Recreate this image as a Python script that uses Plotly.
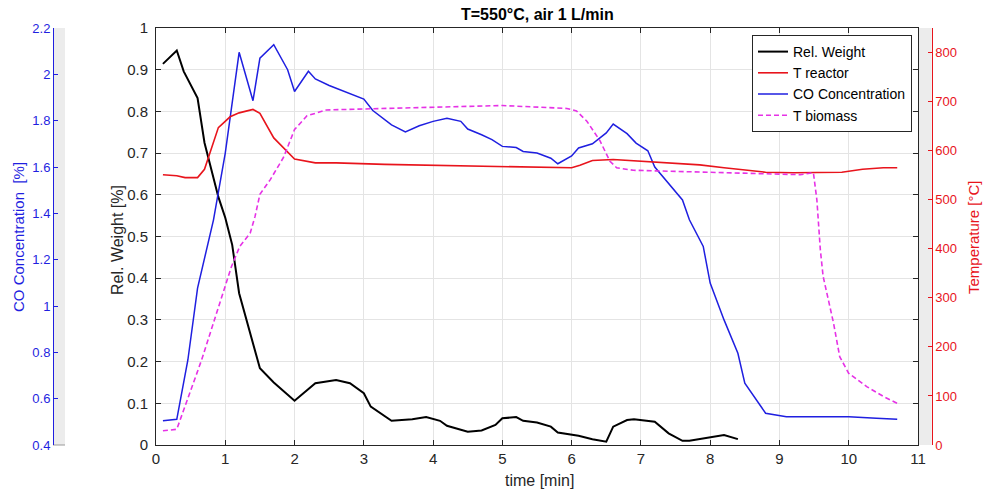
import plotly.graph_objects as go

# ---- measured series -------------------------------------------------------
# Relative sample weight (left axis, 0..1)
t_weight = [0.1, 0.3, 0.4, 0.6, 0.7, 0.9, 1.0, 1.1, 1.2, 1.5, 1.7, 2.0, 2.3, 2.6, 2.8,
            3.0, 3.1, 3.4, 3.7, 3.9, 4.1, 4.2, 4.5, 4.7, 4.9, 5.0, 5.2, 5.3, 5.5, 5.7,
            5.8, 6.0, 6.1, 6.3, 6.5, 6.6, 6.8, 6.9, 7.2, 7.4, 7.6, 7.7, 8.0, 8.2, 8.4]
rel_weight = [0.914, 0.946, 0.896, 0.832, 0.725, 0.595, 0.545, 0.48, 0.364, 0.184, 0.15,
              0.106, 0.148, 0.156, 0.148, 0.124, 0.092, 0.058, 0.062, 0.067, 0.058, 0.046,
              0.032, 0.035, 0.048, 0.064, 0.067, 0.058, 0.054, 0.044, 0.030, 0.024, 0.022,
              0.014, 0.008, 0.044, 0.060, 0.062, 0.056, 0.028, 0.010, 0.010, 0.018, 0.024,
              0.014]

# Reactor temperature (right axis, degC)
t_reactor = [0.1, 0.3, 0.42, 0.6, 0.7, 0.9, 1.07, 1.2, 1.4, 1.5, 1.7, 1.84, 2.0, 2.3, 2.6,
             3.3, 4.2, 5.0, 6.0, 6.12, 6.3, 6.6, 7.1, 7.85, 8.2, 8.5, 8.8, 9.2, 9.9, 10.2,
             10.5, 10.7]
temp_reactor = [551, 549, 545, 545, 562, 647, 669, 677, 684, 676, 626, 606, 583, 575, 575,
                572, 570, 567, 565, 570, 580, 582, 577, 571, 565, 560, 556, 555, 556, 562,
                565, 565]

# CO concentration in the off-gas (outer left axis, %)
t_co = [0.1, 0.3, 0.46, 0.6, 0.83, 1.0, 1.2, 1.4, 1.5, 1.7, 1.9, 2.0, 2.2, 2.3, 2.5, 2.8,
        3.0, 3.13, 3.4, 3.6, 3.8, 4.0, 4.2, 4.4, 4.5, 4.7, 4.85, 5.0, 5.2, 5.3, 5.5, 5.7,
        5.8, 6.0, 6.1, 6.3, 6.5, 6.6, 6.8, 6.93, 7.1, 7.2, 7.4, 7.6, 7.7, 7.9, 8.0, 8.2,
        8.4, 8.5, 8.8, 9.1, 9.8, 10.0, 10.4, 10.7]
co_conc = [0.505, 0.511, 0.767, 1.077, 1.372, 1.66, 2.095, 1.886, 2.07, 2.128, 2.02, 1.926,
           2.013, 1.98, 1.952, 1.916, 1.893, 1.844, 1.782, 1.751, 1.778, 1.797, 1.81, 1.797,
           1.764, 1.739, 1.718, 1.689, 1.684, 1.667, 1.66, 1.638, 1.614, 1.648, 1.682, 1.70,
           1.747, 1.785, 1.744, 1.703, 1.67, 1.60, 1.53, 1.458, 1.372, 1.257, 1.099, 0.94,
           0.796, 0.667, 0.537, 0.522, 0.522, 0.522, 0.515, 0.511]

# Biomass temperature (right axis, degC)
t_biomass = [0.1, 0.3, 0.66, 0.88, 1.09, 1.21, 1.36, 1.43, 1.5, 1.65, 1.84, 2.0, 2.18, 2.46,
             3.3, 4.2, 5.0, 5.93, 6.07, 6.22, 6.41, 6.55, 6.65, 6.89, 7.85, 8.3, 9.3, 9.49,
             9.54, 9.59, 9.63, 9.78, 9.87, 10.0, 10.26, 10.5, 10.7]
temp_biomass = [29, 32, 174, 269, 364, 405, 432, 466, 511, 541, 586, 643, 671, 683, 686, 690,
                692, 686, 681, 660, 620, 579, 565, 560, 556, 555, 551, 555, 500, 398, 344,
                249, 180, 146, 119, 99, 85]

# ---- tick labels -----------------------------------------------------------
x_ticks = list(range(0, 12))
x_ticklabels = [str(v) for v in x_ticks]
w_ticks = [i / 10 for i in range(0, 11)]
w_ticklabels = ["0", "0.1", "0.2", "0.3", "0.4", "0.5", "0.6", "0.7", "0.8", "0.9", "1"]
co_ticks = [0.4, 0.6, 0.8, 1.0, 1.2, 1.4, 1.6, 1.8, 2.0, 2.2]
co_ticklabels = ["0.4", "0.6", "0.8", "1", "1.2", "1.4", "1.6", "1.8", "2", "2.2"]
temp_ticks = list(range(0, 900, 100))
temp_ticklabels = [str(v) for v in temp_ticks]

# ---- layout geometry (pixels of the 984x492 page) ---------------------------
W, H = 984, 492
ML, MR, MT, MB = 10, 10, 28, 47
PW, PH = W - ML - MR, H - MT - MB


def fx(px):
    return (px - ML) / PW


def fy(py):
    return (H - MB - py) / PH


FONT = "Liberation Sans, Arial, sans-serif"
DARK = "#262626"
BLUE = "#1f1fe0"
RED = "#e8141c"
MAGENTA = "#e632e6"
GRID = "#e4e4e4"

fig = go.Figure()
fig.add_trace(go.Scatter(x=t_weight, y=rel_weight, name="Rel. Weight", mode="lines",
                         line=dict(color="#000000", width=2), yaxis="y"))
fig.add_trace(go.Scatter(x=t_reactor, y=temp_reactor, name="T reactor", mode="lines",
                         line=dict(color=RED, width=1.6), yaxis="y3"))
fig.add_trace(go.Scatter(x=t_co, y=co_conc, name="CO Concentration", mode="lines",
                         line=dict(color=BLUE, width=1.5), yaxis="y2"))
fig.add_trace(go.Scatter(x=t_biomass, y=temp_biomass, name="T biomass", mode="lines",
                         line=dict(color=MAGENTA, width=1.6, dash="5px,3px"), yaxis="y3"))

fig.update_layout(
    width=W, height=H,
    margin=dict(l=ML, r=MR, t=MT, b=MB, autoexpand=False),
    paper_bgcolor="white", plot_bgcolor="white",
    font=dict(family=FONT, size=14, color=DARK),
    showlegend=True,
    legend=dict(x=fx(912), y=fy(35), xanchor="right", yanchor="top",
                bgcolor="white", bordercolor=DARK, borderwidth=1,
                font=dict(size=14, color="#000000"), tracegroupgap=0,
                itemwidth=30, entrywidth=135, entrywidthmode="pixels"),
    xaxis=dict(domain=[fx(156), fx(918)], range=[0, 11], tickvals=x_ticks,
               ticktext=x_ticklabels, showline=True, linecolor=DARK, linewidth=1,
               mirror="ticks", ticks="inside", ticklen=5, tickcolor=DARK,
               showgrid=True, gridcolor=GRID, gridwidth=1, zeroline=False,
               tickfont=dict(size=15, color=DARK), automargin=False),
    yaxis=dict(range=[0, 1], tickvals=w_ticks, ticktext=w_ticklabels, showline=True,
               linecolor=DARK, linewidth=1, mirror="ticks", ticks="inside", ticklen=5,
               tickcolor=DARK, showgrid=True, gridcolor=GRID, gridwidth=1,
               zeroline=False, tickfont=dict(size=15, color=DARK),
               ticklabelstandoff=4, automargin=False),
    yaxis2=dict(range=[0.4, 2.2], tickvals=co_ticks, ticktext=co_ticklabels,
                overlaying="y", anchor="free", position=fx(53), side="left",
                showline=True, linecolor=BLUE, linewidth=1, ticks="inside", ticklen=4,
                tickcolor=BLUE, showgrid=False, zeroline=False,
                tickfont=dict(size=13, color=BLUE), automargin=False),
    yaxis3=dict(range=[0, 850], tickvals=temp_ticks, ticktext=temp_ticklabels,
                overlaying="y", anchor="free", position=fx(931.7), side="right",
                showline=True, linecolor=RED, linewidth=1, ticks="inside", ticklen=4,
                tickcolor=RED, showgrid=False, zeroline=False,
                tickfont=dict(size=13, color=RED), automargin=False),
)

# light grey bands of the auxiliary axes
fig.add_shape(type="rect", xref="paper", yref="paper", x0=fx(53), x1=fx(65), y0=0, y1=1,
              fillcolor="#ececec", line=dict(width=0), layer="below")
fig.add_shape(type="line", xref="paper", yref="paper", x0=fx(53), x1=fx(65), y0=0, y1=0,
              line=dict(color="#9a9a9a", width=1), layer="below")
fig.add_shape(type="rect", xref="paper", yref="paper", x0=fx(918), x1=fx(931.7), y0=0, y1=1,
              fillcolor="#ececec", line=dict(width=0), layer="below")

# titles
ann = [
    dict(text="<b>T=550°C, air 1 L/min</b>", x=fx(537), y=fy(15),
         font=dict(size=16, color="#000000"), textangle=0),
    dict(text="time [min]", x=fx(539), y=fy(481), font=dict(size=16, color=DARK),
         textangle=0),
    dict(text="Rel. Weight [%]", x=fx(118), y=fy(240), font=dict(size=16, color=DARK),
         textangle=-90),
    dict(text="CO Concentration  [%]", x=fx(18), y=fy(237), font=dict(size=15, color=BLUE),
         textangle=-90),
    dict(text="Temperature [°C]", x=fx(973), y=fy(237), font=dict(size=15, color=RED),
         textangle=-90),
]
for a in ann:
    fig.add_annotation(xref="paper", yref="paper", xanchor="center", yanchor="middle",
                       showarrow=False, **a)

fig.write_html("out.html")
